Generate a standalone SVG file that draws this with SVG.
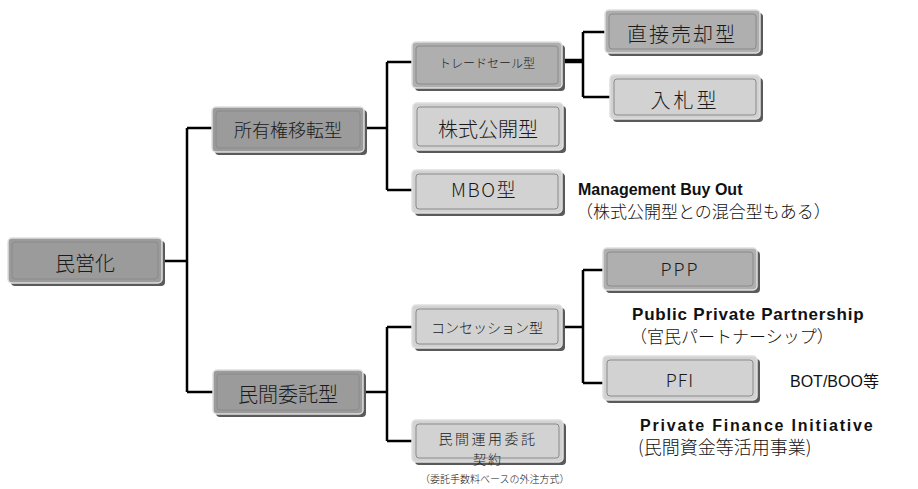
<svg xmlns="http://www.w3.org/2000/svg" width="918" height="489" viewBox="0 0 918 489">
<defs>
<style>
.sh{fill:#5a5a5a;}
.b{stroke:#e0e0e0;stroke-width:1.5;}
.in{fill:none;stroke:#8a8a8a;stroke-width:1;}
.d1{fill:#9b9b9b;}
.d2{fill:#afafaf;}
.d3{fill:#d2d2d2;}
.t{font-family:"Noto Sans CJK JP","Liberation Sans",sans-serif;fill:#1a1a1a;text-anchor:middle;dominant-baseline:central;font-weight:300;}
.n{font-family:"Liberation Sans","Noto Sans CJK JP",sans-serif;fill:#111;}
.j{font-family:"Noto Sans CJK JP",sans-serif;fill:#111;font-weight:300;}
.c{fill:none;stroke:#000;stroke-width:2.5;}
</style>
</defs>
<rect width="918" height="489" fill="#fff"/>
<g id="connectors">
<path class="c" d="M162,261H187M187,128V392M187,128H212M187,392H213"/>
<path class="c" d="M364,128H387M387,62V190M387,62H412M387,190H412"/>
<path class="c" d="M562,62H583M583,32V97M583,32H605M583,97H610"/>
<path class="c" d="M562,60H583" stroke-width="1.5"/>
<path class="c" d="M363,392H387M387,327V441M387,327H412M387,441H412"/>
<path class="c" d="M562,327H583M583,270V383M583,270H603M583,383H603"/>
</g>
<g id="n-minei">
<rect class="sh" x="11" y="241" width="154" height="45" rx="4"/>
<rect class="d1 b" x="8" y="238" width="154" height="45" rx="4"/>
<rect class="in" x="12" y="242" width="146" height="37" rx="3"/>
<text class="t" x="85" y="262" font-size="20">民営化</text>
</g>
<g id="n-shoyu">
<rect class="sh" x="215" y="110" width="152" height="45" rx="4"/>
<rect class="d1 b" x="212" y="107" width="152" height="45" rx="4"/>
<rect class="in" x="216" y="111" width="144" height="37" rx="3"/>
<text class="t" x="288" y="129" font-size="18">所有権移転型</text>
</g>
<g id="n-itaku">
<rect class="sh" x="216" y="373" width="150" height="44" rx="4"/>
<rect class="d1 b" x="213" y="370" width="150" height="44" rx="4"/>
<rect class="in" x="217" y="374" width="142" height="36" rx="3"/>
<text class="t" x="288" y="393" font-size="20">民間委託型</text>
</g>
<g id="n-trade">
<rect class="sh" x="415" y="45" width="150" height="46" rx="4"/>
<rect class="d2 b" x="412" y="42" width="150" height="46" rx="4"/>
<rect class="in" x="416" y="46" width="142" height="38" rx="3"/>
<text class="t" x="487" y="62" font-size="12">トレードセール型</text>
</g>
<g id="n-kabu">
<rect class="sh" x="416" y="106" width="150" height="47" rx="4"/>
<rect class="d3 b" x="413" y="103" width="150" height="47" rx="4"/>
<rect class="in" x="417" y="107" width="142" height="39" rx="3"/>
<text class="t" x="488" y="128" font-size="20">株式公開型</text>
</g>
<g id="n-mbo">
<rect class="sh" x="415" y="173" width="150" height="43" rx="4"/>
<rect class="d3 b" x="412" y="170" width="150" height="43" rx="4"/>
<rect class="in" x="416" y="174" width="142" height="35" rx="3"/>
<text class="t" x="484" y="188" font-size="19" letter-spacing="1.5">MBO型</text>
</g>
<g id="n-chokusetsu">
<rect class="sh" x="608" y="13" width="155" height="43" rx="4"/>
<rect class="d2 b" x="605" y="10" width="155" height="43" rx="4"/>
<rect class="in" x="609" y="14" width="147" height="35" rx="3"/>
<text class="t" x="682" y="33" font-size="20" letter-spacing="2">直接売却型</text>
</g>
<g id="n-nyusatsu">
<rect class="sh" x="613" y="78" width="150" height="44" rx="4"/>
<rect class="d3 b" x="610" y="75" width="150" height="44" rx="4"/>
<rect class="in" x="614" y="79" width="142" height="36" rx="3"/>
<text class="t" x="685" y="99" font-size="20" letter-spacing="3">入札型</text>
</g>
<g id="n-ppp">
<rect class="sh" x="606" y="251" width="154" height="42" rx="4"/>
<rect class="d2 b" x="603" y="248" width="154" height="42" rx="4"/>
<rect class="in" x="607" y="252" width="146" height="34" rx="3"/>
<text class="t" x="680" y="268" font-size="18" font-family="Liberation Sans" letter-spacing="2">PPP</text>
</g>
<g id="n-concession">
<rect class="sh" x="415" y="308" width="150" height="43" rx="4"/>
<rect class="d3 b" x="412" y="305" width="150" height="43" rx="4"/>
<rect class="in" x="416" y="309" width="142" height="35" rx="3"/>
<text class="t" x="487" y="327" font-size="14">コンセッション型</text>
</g>
<g id="n-pfi">
<rect class="sh" x="606" y="359" width="154" height="44" rx="4"/>
<rect class="d3 b" x="603" y="356" width="154" height="44" rx="4"/>
<rect class="in" x="607" y="360" width="146" height="36" rx="3"/>
<text class="t" x="680" y="379" font-size="18" font-family="Liberation Sans" letter-spacing="1">PFI</text>
</g>
<g id="n-unyo">
<rect class="sh" x="415" y="423" width="151" height="42" rx="4"/>
<rect class="d3 b" x="412" y="420" width="151" height="42" rx="4"/>
<rect class="in" x="416" y="424" width="143" height="34" rx="3"/>
<text class="t" x="488" y="438" font-size="14" letter-spacing="2.5">民間運用委託</text>
<text class="t" x="488" y="458" font-size="13" letter-spacing="2">契約</text>
</g>
<g id="labels">
<text class="n" x="578" y="195" font-size="16" font-weight="bold">Management Buy Out</text>
<text class="j" x="576" y="218" font-size="17">（株式公開型との混合型もある）</text>
<text class="n" x="632" y="320" font-size="17" font-weight="bold" letter-spacing="0.8">Public Private Partnership</text>
<text class="j" x="630" y="343" font-size="17">（官民パートナーシップ）</text>
<text class="n" x="790" y="387" font-size="16">BOT/BOO等</text>
<text class="n" x="640" y="431" font-size="16" font-weight="bold" letter-spacing="1.8">Private Finance Initiative</text>
<text class="j" x="638" y="454" font-size="18">(民間資金等活用事業)</text>
<text class="j" x="420" y="483" font-size="10">（委託手数料ベースの外注方式）</text>
</g>
</svg>
